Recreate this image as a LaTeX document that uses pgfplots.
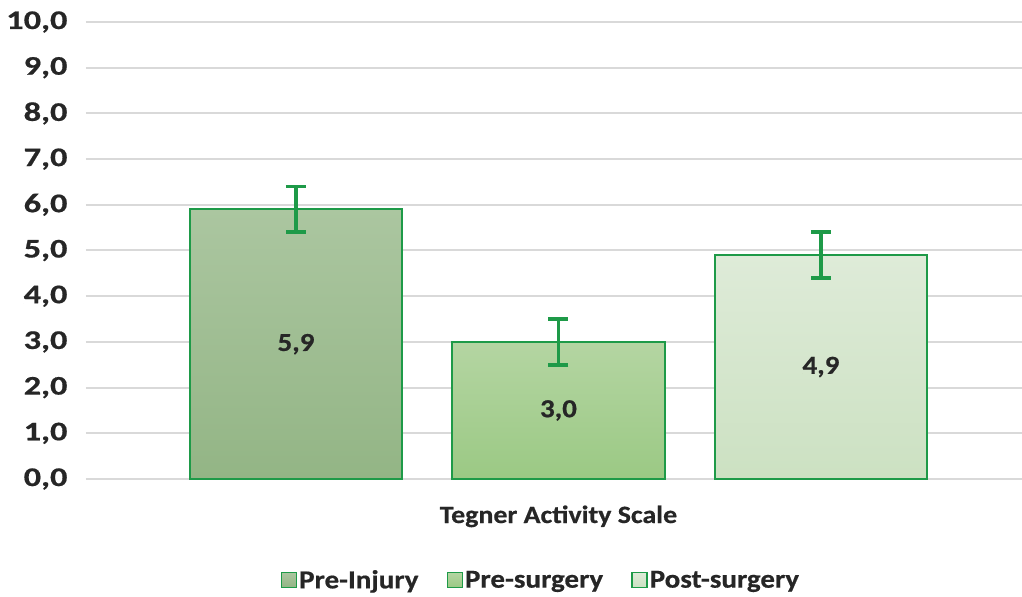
\documentclass[border=0pt]{standalone}
\usepackage{fontspec}
\setmainfont{Carlito}[BoldFeatures={FakeStretch=1.12, FakeBold=0.6}]
\newfontfamily\tickf{Carlito}[UprightFont=*-Bold, FakeStretch=1.28, FakeBold=0.6]
\usepackage{pgfplots}
\pgfplotsset{compat=1.18}
\definecolor{edge}{HTML}{1E9A48}
\definecolor{gridc}{HTML}{D9D9D9}
\definecolor{txt}{HTML}{262626}
\definecolor{aT}{HTML}{ABC6A0}
\definecolor{aB}{HTML}{93B585}
\definecolor{bT}{HTML}{B4D5A2}
\definecolor{bB}{HTML}{9BC984}
\definecolor{cT}{HTML}{DEEBD8}
\definecolor{cB}{HTML}{CCE1C2}
\newcommand{\bigf}{\bfseries\fontsize{26}{28}\selectfont}
\begin{document}
\begin{tikzpicture}
\begin{axis}[
  scale only axis, width=936bp, height=457bp,
  xmin=-0.8, xmax=2.766, ymin=0, ymax=10,
  clip=false,
  axis lines=left, axis line style={draw=none},
  xtick=\empty, ytick={0,1,...,10},
  ymajorgrids, grid style={draw=gridc, line width=2bp},
  major tick length=0pt,
  yticklabel style={font=\tickf\fontsize{27}{28}\selectfont, text=txt, xshift=-15bp},
  /pgf/number format/.cd, fixed, fixed zerofill, precision=1, use comma, assume math mode=true,
  /pgfplots/.cd,
  legend columns=3,
  legend style={at={(0.486,-0.221)}, anchor=center, draw=none, fill=none, font=\bigf, text=txt,
    /tikz/every even column/.append style={column sep=26bp}},
  legend image code/.code={\draw[#1, line width=1.5bp] (0bp,-7.5bp) rectangle (15bp,7.5bp);},
]
\addplot[ybar, bar width=0.808, bar shift=0, draw=edge, line width=2bp, top color=aT, bottom color=aB]
  coordinates {(0,5.9)};
\addlegendentry{Pre-Injury}
\addplot[ybar, bar width=0.808, bar shift=0, draw=edge, line width=2bp, top color=bT, bottom color=bB]
  coordinates {(1,3.0)};
\addlegendentry{Pre-surgery}
\addplot[ybar, bar width=0.808, bar shift=0, draw=edge, line width=2bp, top color=cT, bottom color=cB]
  coordinates {(2,4.9)};
\addlegendentry{Post-surgery}
\addplot[forget plot, draw=none, mark=none,
  error bars/.cd, y dir=both, y explicit,
  error bar style={draw=edge, line width=3.5bp},
  error mark options={rotate=90, mark size=10bp, line width=3.5bp, draw=edge}]
  coordinates {(0,5.9) +- (0,0.5) (1,3.0) +- (0,0.5) (2,4.9) +- (0,0.5)};
\addplot[forget plot, draw=none, mark=none, nodes near coords, point meta=explicit symbolic,
  nodes near coords style={anchor=center, font=\bigf, text=txt}]
  coordinates {(0,2.95)[5,9] (1,1.5)[3,0] (2,2.45)[4,9]};
\node[anchor=base, font=\bfseries\fontsize{25}{27}\selectfont, text=txt] at ([yshift=-44bp]axis cs:1,0) {Tegner Activity Scale};
\coordinate (sw) at (rel axis cs:0,0);
\coordinate (ne) at (rel axis cs:1,1);
\end{axis}
\pgfresetboundingbox
\path ([shift={(-86bp,-118bp)}]sw) rectangle ([shift={(0bp,22bp)}]ne);
\end{tikzpicture}
\end{document}
